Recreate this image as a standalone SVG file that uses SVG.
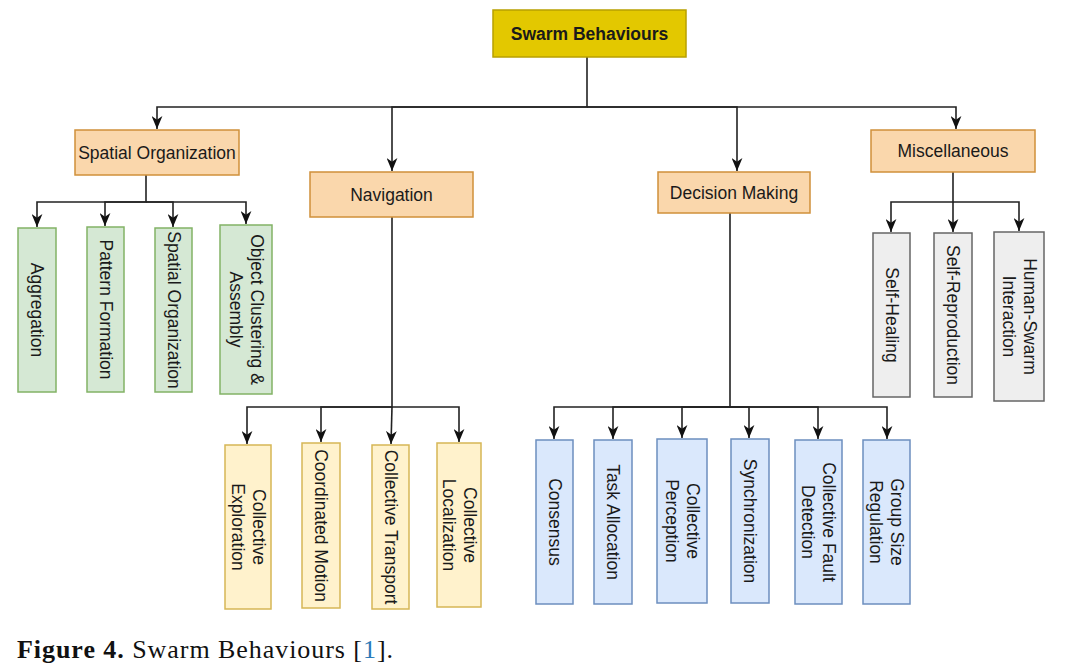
<svg xmlns="http://www.w3.org/2000/svg" width="1087" height="664" viewBox="0 0 1087 664">
<defs>
<marker id="arr" viewBox="0 0 12 10" refX="12" refY="5" markerWidth="13" markerHeight="11" markerUnits="userSpaceOnUse" orient="auto">
<path d="M0,0 L12,5 L0,10 L3.5,5 Z" fill="#111"/>
</marker>
<style>
text{font-family:"Liberation Sans",Arial,sans-serif;font-size:17.5px;fill:#1a1a1a}
.h{text-anchor:middle}
.v{text-anchor:middle}
.b{font-weight:bold}
.root{fill:#e3c800;stroke:#b8a000;stroke-width:1.5}
.cat{fill:#fad7ac;stroke:#d0903a;stroke-width:1.5}
.g{fill:#d5e8d4;stroke:#82b366;stroke-width:1.5}
.y{fill:#fff2cc;stroke:#d6b656;stroke-width:1.5}
.bl{fill:#dae8fc;stroke:#6c8ebf;stroke-width:1.5}
.gr{fill:#eeeeee;stroke:#666666;stroke-width:1.5}
.c path{fill:none;stroke:#222;stroke-width:1.6;marker-end:url(#arr)}
.cap{font-family:"Liberation Serif","Times New Roman",serif;font-size:26px;fill:#111}
</style>
</defs>
<rect width="1087" height="664" fill="#fff"/>

<g id="connectors" class="c">
<path d="M587,57 V107 H157 V129"/>
<path d="M587,107 H392 V171"/>
<path d="M587,107 H737 V171"/>
<path d="M587,107 H956 V129"/>
<path d="M146,175 V202 H37 V227"/>
<path d="M146,202 H105 V226"/>
<path d="M146,202 H173 V227"/>
<path d="M146,202 H246 V224"/>
<path d="M392,217 V407 H247 V444"/>
<path d="M392,407 H321 V442"/>
<path d="M392,407 L391,444"/>
<path d="M392,407 H459 V442"/>
<path d="M730,213 V407 H554 V439"/>
<path d="M730,407 H613 V439"/>
<path d="M730,407 H682 V438"/>
<path d="M730,407 H749 V438"/>
<path d="M730,407 H818 V439"/>
<path d="M730,407 H887 V439"/>
<path d="M953,172 V202 H891 V232"/>
<path d="M953,202 V232"/>
<path d="M953,202 H1019 V231"/>
</g>

<g id="swarm"><rect class="root" x="493" y="10" width="193" height="47"/><text class="h b" x="589.5" y="40">Swarm Behaviours</text></g>

<g id="spatial"><rect class="cat" x="75" y="130" width="164" height="45"/><text class="h" x="157" y="158.5">Spatial Organization</text></g>
<g id="navigation"><rect class="cat" x="310" y="172" width="163" height="45"/><text class="h" x="391.5" y="200.5">Navigation</text></g>
<g id="decision"><rect class="cat" x="658" y="172" width="152" height="41"/><text class="h" x="734" y="198.5">Decision Making</text></g>
<g id="misc"><rect class="cat" x="871" y="130" width="164" height="42"/><text class="h" x="953" y="157">Miscellaneous</text></g>

<g id="aggregation"><rect class="g" x="18" y="228" width="38" height="164"/><text class="v" transform="translate(37,310) rotate(90)" y="6">Aggregation</text></g>
<g id="pattern"><rect class="g" x="87" y="227" width="37" height="165"/><text class="v" transform="translate(105.5,309.5) rotate(90)" y="6">Pattern Formation</text></g>
<g id="spatialorg"><rect class="g" x="155" y="228" width="37" height="164"/><text class="v" transform="translate(173.5,310) rotate(90)" y="6">Spatial Organization</text></g>
<g id="object"><rect class="g" x="220" y="225" width="52" height="169"/><text class="v" transform="translate(246,309.5) rotate(90)"><tspan x="0" y="-4.5">Object Clustering &amp;</tspan><tspan x="0" y="16.5">Assembly</tspan></text></g>

<g id="exploration"><rect class="y" x="225" y="445" width="46" height="164"/><text class="v" transform="translate(248,527) rotate(90)"><tspan x="0" y="-4.5">Collective</tspan><tspan x="0" y="16.5">Exploration</tspan></text></g>
<g id="coordinated"><rect class="y" x="302" y="443" width="38" height="165"/><text class="v" transform="translate(321,525.5) rotate(90)" y="6">Coordinated Motion</text></g>
<g id="transport"><rect class="y" x="372" y="445" width="37" height="164"/><text class="v" transform="translate(390.5,527) rotate(90)" y="6">Collective Transport</text></g>
<g id="localization"><rect class="y" x="437" y="443" width="44" height="164"/><text class="v" transform="translate(459,525) rotate(90)"><tspan x="0" y="-4.5">Collective</tspan><tspan x="0" y="16.5">Localization</tspan></text></g>

<g id="consensus"><rect class="bl" x="536" y="440" width="37" height="164"/><text class="v" transform="translate(554.5,522) rotate(90)" y="6">Consensus</text></g>
<g id="task"><rect class="bl" x="594" y="440" width="38" height="164"/><text class="v" transform="translate(613,522) rotate(90)" y="6">Task Allocation</text></g>
<g id="perception"><rect class="bl" x="657" y="439" width="50" height="164"/><text class="v" transform="translate(682,521) rotate(90)"><tspan x="0" y="-4.5">Collective</tspan><tspan x="0" y="16.5">Perception</tspan></text></g>
<g id="sync"><rect class="bl" x="731" y="439" width="38" height="164"/><text class="v" transform="translate(750,521) rotate(90)" y="6">Synchronization</text></g>
<g id="fault"><rect class="bl" x="795" y="440" width="47" height="164"/><text class="v" transform="translate(818.5,522) rotate(90)"><tspan x="0" y="-4.5">Collective Fault</tspan><tspan x="0" y="16.5">Detection</tspan></text></g>
<g id="groupsize"><rect class="bl" x="863" y="440" width="47" height="164"/><text class="v" transform="translate(886.5,522) rotate(90)"><tspan x="0" y="-4.5">Group Size</tspan><tspan x="0" y="16.5">Regulation</tspan></text></g>

<g id="selfhealing"><rect class="gr" x="873" y="233" width="37" height="164"/><text class="v" transform="translate(891.5,315) rotate(90)" y="6">Self-Healing</text></g>
<g id="selfrepro"><rect class="gr" x="934" y="233" width="38" height="164"/><text class="v" transform="translate(953,315) rotate(90)" y="6">Self-Reproduction</text></g>
<g id="human"><rect class="gr" x="994" y="232" width="50" height="169"/><text class="v" transform="translate(1019,316.5) rotate(90)"><tspan x="0" y="-4.5">Human-Swarm</tspan><tspan x="0" y="16.5">Interaction</tspan></text></g>

<text class="cap" x="17" y="658" textLength="376" lengthAdjust="spacing"><tspan font-weight="bold">Figure 4.</tspan> Swarm Behaviours [<tspan fill="#2a7ab8">1</tspan>].</text>
</svg>
